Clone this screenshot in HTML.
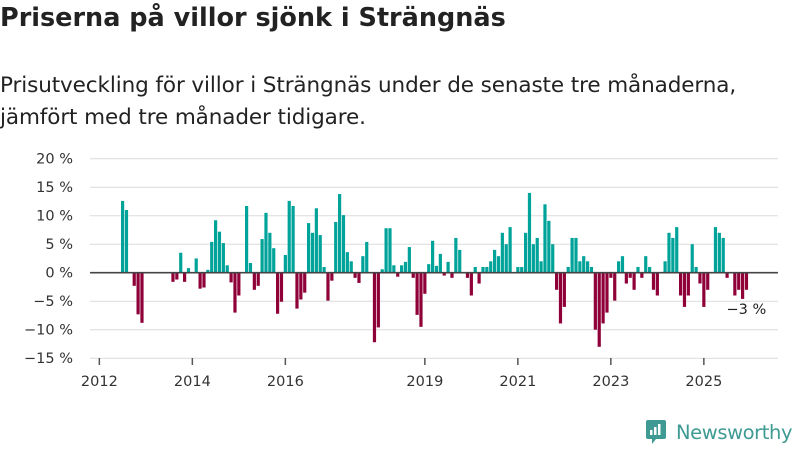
<!DOCTYPE html>
<html><head><meta charset="utf-8"><style>
body{margin:0;width:800px;height:450px;background:#fff;font-family:"DejaVu Sans","Liberation Sans",sans-serif;overflow:hidden;position:relative}
h1{position:absolute;left:0;top:3px;margin:0;font-size:25.5px;font-weight:bold;color:#222;letter-spacing:0}
.sub{position:absolute;left:0;top:70px;font-size:21.5px;line-height:32px;color:#222;letter-spacing:-0.1px}
svg{position:absolute;left:0;top:0}
</style></head><body>
<h1>Priserna på villor sjönk i Strängnäs</h1>
<div class="sub">Prisutveckling för villor i Strängnäs under de senaste tre månaderna,<br>jämfört med tre månader tidigare.</div>
<svg id="c" width="800" height="450"></svg>
<script>
const startYear=2012, startMonth=6; // Jul 2012
const values=[12.6,11.0,0,-2.3,-7.3,-8.8,0,0,0,0,0,0,0,-1.6,-1.2,3.5,-1.6,0.8,0,2.5,-2.8,-2.6,0.5,5.4,9.2,7.2,5.2,1.3,-1.7,-7.0,-4.0,0,11.7,1.7,-3.0,-2.3,5.9,10.5,7.0,4.3,-7.2,-5.1,3.1,12.6,11.7,-6.3,-4.7,-3.5,8.7,7.0,11.3,6.6,1.0,-4.9,-1.4,8.9,13.8,10.1,3.6,2.0,-0.9,-1.8,2.9,5.4,0,-12.2,-9.6,0.6,7.8,7.8,1.3,-0.7,1.3,1.9,4.5,-0.9,-7.4,-9.5,-3.7,1.5,5.6,1.2,3.3,-0.5,1.9,-0.9,6.1,4.0,0,-0.9,-4.0,1.0,-1.9,1.0,1.0,2.0,4.0,2.9,7.0,5.0,8.0,0,1.0,1.0,7.0,14.0,5.0,6.1,2.0,12.0,9.1,5.0,-3.0,-8.9,-6.0,1.0,6.1,6.1,2.0,2.9,2.0,1.0,-10.0,-13.0,-8.9,-7.0,-0.9,-4.9,2.0,2.9,-1.9,-0.9,-3.0,1.0,-0.9,2.9,1.0,-3.0,-4.0,0,2.0,7.0,6.1,8.0,-4.0,-6.0,-4.0,5.0,1.0,-1.9,-6.0,-3.0,0,8.0,7.0,6.1,-0.9,0,-4.0,-3.0,-4.6,-3.0];
const yTicks=[20,15,10,5,0,-5,-10,-15];
const xTickYears=[2012,2014,2016,2019,2021,2023,2025];
const lastLabel="−3 %";
const svg=document.getElementById('c');
const NS='http://www.w3.org/2000/svg';
function y(v){return 272.7-v*5.7;}
function x(m){return 122.6+m*3.875;}
function monthIdx(yr,mo){return (yr-startYear)*12+mo-startMonth;}
function el(t,a){const e=document.createElementNS(NS,t);for(const k in a)e.setAttribute(k,a[k]);svg.appendChild(e);return e;}
yTicks.forEach(v=>{
 const g=el('line',{x1:90,x2:778,y1:y(v),y2:y(v),stroke:'#dcdcdc','stroke-width':1});
 
 
 const t=el('text',{x:73,y:y(v)+5,'text-anchor':'end','font-size':14.5,fill:'#333'});
 t.textContent=(v<0?'−'+(-v):v)+' %';
 
 
});
values.forEach((v,i)=>{
 if(!v)return;
 const r=el('rect',{x:x(i)-1.6,width:3.2,y:v>0?y(v):y(0),height:Math.abs(y(v)-y(0)),fill:v>0?'#00a39a':'#8f0038'});
 
 
});
const z=el('line',{x1:90,x2:778,y1:y(0),y2:y(0),stroke:'#444','stroke-width':1.6});


xTickYears.forEach(yr=>{
 const xx=x(monthIdx(yr,0));
 const l=el('line',{x1:xx,x2:xx,y1:358,y2:365,stroke:'#555','stroke-width':1.5});
 
 
 const t=el('text',{x:xx,y:386,'text-anchor':'middle','font-size':14.5,fill:'#333'});
 t.textContent=yr;
 
 
});
const li=values.length-1;
const lt=el('text',{x:x(li)-20,y:314,'font-size':14.5,fill:'#222'});
lt.textContent=lastLabel;


</script>
<div style="position:absolute;left:645px;top:419px;display:flex;align-items:center">
<svg width="22" height="26" style="position:static"><path d="M3 1h16a2 2 0 0 1 2 2v15a2 2 0 0 1-2 2h-8l-4 5v-5H3a2 2 0 0 1-2-2V3a2 2 0 0 1 2-2z" fill="#3e9a92"/><rect x="5" y="11" width="2.5" height="5" fill="#fff"/><rect x="9" y="8" width="2.5" height="8" fill="#fff"/><rect x="13" y="5" width="2.5" height="11" fill="#fff"/></svg>
<span style="margin-left:9px;font-size:19.5px;color:#3e9a92;letter-spacing:-0.4px">Newsworthy</span></div>
</body></html>
